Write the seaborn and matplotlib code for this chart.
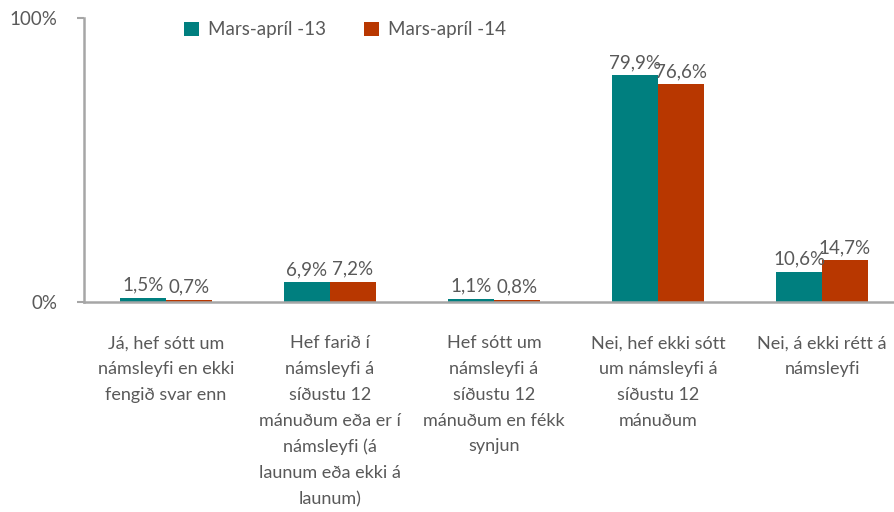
import pandas as pd
import matplotlib
matplotlib.use("Agg")
import matplotlib.pyplot as plt
import seaborn as sns

# data
categories = [
    "Já, hef sótt um\nnámsleyfi en ekki\nfengið svar enn",
    "Hef farið í\nnámsleyfi á\nsíðustu 12\nmánuðum eða er í\nnámsleyfi (á\nlaunum eða ekki á\nlaunum)",
    "Hef sótt um\nnámsleyfi á\nsíðustu 12\nmánuðum en fékk\nsynjun",
    "Nei, hef ekki sótt\num námsleyfi á\nsíðustu 12\nmánuðum",
    "Nei, á ekki rétt á\nnámsleyfi",
]
series = ["Mars-apríl -13", "Mars-apríl -14"]
vals_13 = [1.5, 6.9, 1.1, 79.9, 10.6]
vals_14 = [0.7, 7.2, 0.8, 76.6, 14.7]
colors = ["#007F7F", "#B83700"]

df = pd.DataFrame({
    "cat": categories * 2,
    "period": [series[0]] * 5 + [series[1]] * 5,
    "value": vals_13 + vals_14,
})

sns.set_style("white")
plt.rcParams["font.family"] = ["Lato", "DejaVu Sans"]
txt = "#595959"
grey = "#A6A6A6"

fig = plt.figure(figsize=(8.94, 5.12), dpi=100)
ax = fig.add_axes([84 / 894, 210 / 512, 820 / 894, 284 / 512])

sns.barplot(data=df, x="cat", y="value", hue="period", palette=colors,
            width=0.56, gap=0, saturation=1, linewidth=0, ax=ax, legend=True)

for cont in ax.containers:
    labs = [f"{b.get_height():.1f}".replace(".", ",") + "%" for b in cont]
    ax.bar_label(cont, labels=labs, padding=3, fontsize=13.5, color=txt)

ax.set_ylim(0, 100)
ax.set_xlim(-0.5, 4.5)
ax.set_yticks([0, 100])
ax.set_yticklabels(["0%", "100%"], fontsize=13.5, color=txt)
ax.set_xticks(range(5))
ax.set_xticklabels(categories, fontsize=13, color=txt, linespacing=1.75)
ax.tick_params(axis="x", which="major", length=0, pad=24)
ax.set_xticks([i - 0.5 for i in range(6)], minor=True)
ax.tick_params(axis="x", which="minor", length=6, color=grey, width=1.5, direction="out")
ax.tick_params(axis="y", length=5, color=grey, width=1.5, pad=14, left=True)
ax.set_xlabel("")
ax.set_ylabel("")

for s in ["top", "right"]:
    ax.spines[s].set_visible(False)
for s in ["left", "bottom"]:
    ax.spines[s].set_color(grey)
    ax.spines[s].set_linewidth(1.8)

ax.legend(loc="center", bbox_to_anchor=(0.318, 0.958), ncol=2, frameon=False,
          fontsize=13.5, labelcolor=txt, handlelength=0.8, handleheight=0.8,
          handletextpad=0.5, columnspacing=2.0)

fig.savefig("out.png", dpi=100)
